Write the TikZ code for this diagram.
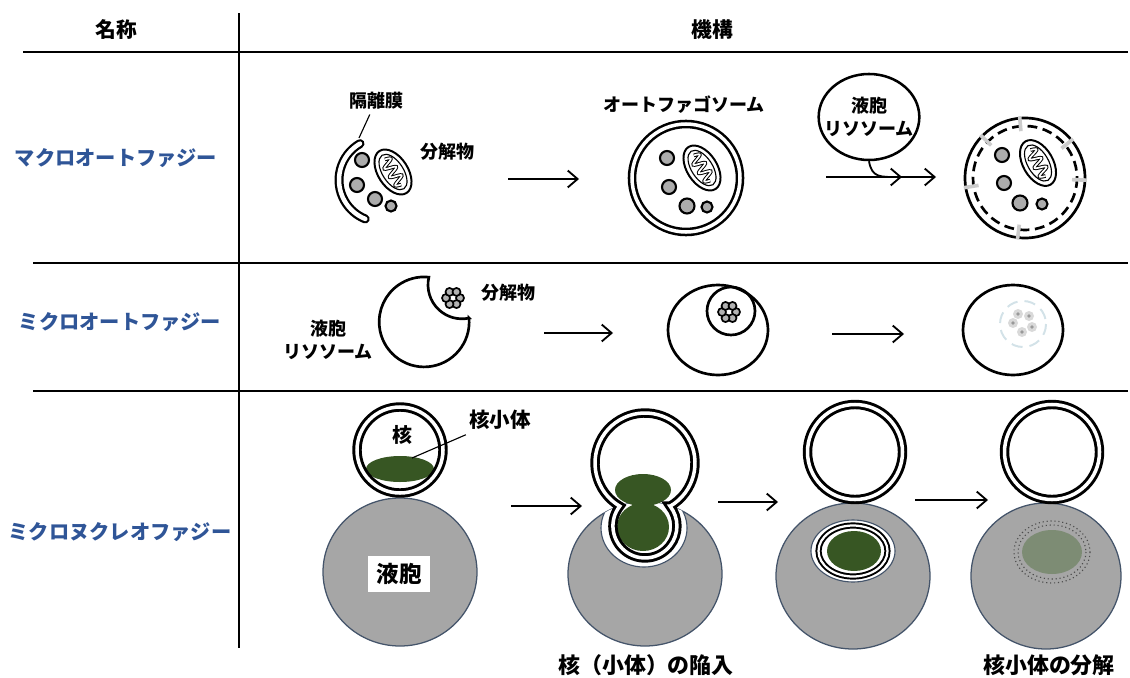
\documentclass[tikz,border=0pt]{standalone}
\usepackage{fontspec}
\setmainfont{Noto Sans CJK JP}
\usepackage{tikz}
\usetikzlibrary{arrows.meta, shapes.geometric}
\definecolor{rowblue}{HTML}{2F5597}
\definecolor{vacgray}{HTML}{A6A6A6}
\definecolor{vacedge}{HTML}{44546A}
\definecolor{nucgreen}{HTML}{375623}
\definecolor{fadegreen}{HTML}{7D8C74}
\definecolor{paleblue}{HTML}{D3E2E8}
\tikzset{
>={Straight Barb[length=7pt, width=12pt]}, % open arrow heads
rule/.style={line width=1.4pt}, % table lines
head/.style={font=\fontsize{14.8}{17}\selectfont\bfseries}, % column titles
rowname/.style={text=rowblue, font=\fontsize{14.4}{17}\selectfont\bfseries}, % row titles
lbl/.style={font=\fontsize{12.8}{16.5}\selectfont\bfseries, align=center}, % small labels
caption/.style={font=\fontsize{15.6}{18}\selectfont\bfseries}, % labels under the cells
flow/.style={->, line width=1.3pt}, % arrows between stages
leader/.style={line width=0.8pt}, % label pointer lines
outline/.style={draw=black, line width=1.9pt}, % plain membranes
membrane/.style={draw=black, line width=1.6pt, double=white, double distance=3.2pt, line cap=round},
apring/.style={draw=black, line width=1.8pt, double=white, double distance=2.5pt},
nucring/.style={draw=black, line width=2.1pt, double=white, double distance=2.5pt},
inring/.style={draw=black, line width=1.4pt, double=white, double distance=1.6pt},
cargo/.style={draw=black, fill=gray!65, line width=1.5pt}, % particles to degrade
grain/.style={draw=black, fill=gray!60, line width=1.2pt},
fadegrain/.style={fill=gray!30},
crista/.style={draw=black, line width=0.7pt, double=white, double distance=1.2pt},
vac/.style={fill=vacgray, draw=vacedge, line width=0.9pt}, % vacuole
pocket/.style={fill=white, draw=vacedge, line width=0.8pt},
lyso/.style={ellipse, draw, line width=1.8pt, minimum width=2.45cm, minimum height=2.15cm, inner sep=-6.5pt},
}
% mitochondrion: position, tilt
\newcommand\mito[2]{
  \begin{scope}[shift={(#1)}, rotate=#2]
    \draw[line width=1.4pt, fill=white] (0,0) ellipse [x radius=25, y radius=15];
    \draw[line width=0.8pt] (0,0) ellipse [x radius=20, y radius=10.5];
    \draw[crista] plot[domain=-15:15, samples=40, smooth] (\x, {5.5*sin(\x*36)});
  \end{scope}}
% ring of small particles
\newcommand\cluster[1]{
  \foreach \a in {0,60,...,300} \draw[grain] (#1) ++(\a:7) circle [radius=4];}

\begin{document}
\begin{tikzpicture}[x=0.025cm, y=-0.025cm]
\useasboundingbox (0,0) rectangle (1130,677);

% table
\draw[rule] (23,52) -- (1128,52);
\draw[rule] (239,13) -- (239,648);
\draw[rule] (33,263) -- (1128,263);
\draw[rule] (33,391) -- (1128,391);
\node[head] (hname) at (116,30) {名称};
\node[head] (hmech) at (712,30) {機構};
\node[rowname] (macro) at (116,158) {マクロオートファジー};
\node[rowname] (micro) at (120,322) {ミクロオートファジー};
\node[rowname] (nucleo) at (120,532) {ミクロヌクレオファジー};

% macroautophagy
\draw[membrane] (381,180) ++(240:42) arc[start angle=240, end angle=112, radius=42];
\node[lbl] (memlbl) at (376,101) {隔離膜};
\coordinate (memtip) at (359,138);
\draw[leader] (memlbl) -- (memtip);
\draw[cargo] (362,160) circle [radius=7];
\draw[cargo] (357,185) circle [radius=7];
\draw[cargo] (375,199) circle [radius=7];
\draw[cargo] (391,206) circle [radius=5.5];
\mito{393,172}{-57}
\node[lbl] (cargolbl) at (447,152) {分解物};
\coordinate (m1a) at (508,179);
\coordinate (m1b) at (579,179);
\draw[flow] (m1a) -- (m1b);

\node[lbl] (aplbl) at (684,105) {オートファゴソーム};
\draw[apring] (686,178) circle [radius=54];
\draw[cargo] (667,158) circle [radius=7];
\draw[cargo] (669,187) circle [radius=7];
\draw[cargo] (687,206) circle [radius=7.5];
\draw[cargo] (707,207) circle [radius=5.5];
\mito{702,168}{-57}

\node[lyso, lbl] (lyso) at (869,117) {液胞\\リソソーム};
\coordinate (fuse) at (902,177);
\draw[flow] (lyso.south) .. controls (872,178) and (880,177) .. (fuse);
\coordinate (m2a) at (826,177);
\coordinate (m2b) at (936,177);
\draw[flow] (m2a) -- (m2b);

\draw[outline] (1025,178) circle [radius=60];
\draw[outline, dash pattern=on 7pt off 4pt] (1025,178) circle [radius=52];
\foreach \a in {-95,-136,171,2,-39,97}
  \draw[gray!40, line width=2.6pt] (1025,178) ++(\a:47) -- ++(\a:15);
\draw[cargo] (1002,155) circle [radius=7];
\draw[cargo] (1004,183) circle [radius=7];
\draw[cargo] (1020,203) circle [radius=7.5];
\draw[cargo] (1042,204) circle [radius=5.5];
\mito{1038,163}{-60}

% microautophagy
\draw[outline, fill=white] (469,318) arc[start angle=-5, end angle=276, radius=45]
  arc[start angle=193, end angle=78, radius=34] -- cycle;
\cluster{453,298}
\node[lbl] (mcargolbl) at (508,293) {分解物};
\node[lbl] (mvaclbl) at (328,340) {液胞\\リソソーム};
\coordinate (u1a) at (544,333);
\coordinate (u1b) at (613,333);
\draw[flow] (u1a) -- (u1b);

\draw[outline] (718,330) ellipse [x radius=50, y radius=45];
\draw[outline] (731,311) circle [radius=24];
\cluster{729,312}
\coordinate (u2a) at (832,334);
\coordinate (u2b) at (904,334);
\draw[flow] (u2a) -- (u2b);

\draw[outline] (1013,330) ellipse [x radius=50, y radius=45];
\draw[paleblue, line width=1.4pt, dash pattern=on 8pt off 5pt] (1023,324) circle [radius=23];
\foreach \p in {{1018,314},{1029,316},{1013,323},{1032,327},{1022,332}} {
  \fill[fadegrain] (\p) circle [radius=5];
  \fill[gray!80] (\p) circle [radius=1.8];
}

% micronucleophagy
\draw[vac] (400,572) ellipse [x radius=77, y radius=74];
\fill[nucgreen] (400,469) ellipse [x radius=34, y radius=13];
\draw[nucring] (400,450) circle [radius=43];
\node[font=\fontsize{14.2}{17}\selectfont\bfseries] (nuctxt) at (402,435) {核};
\node[font=\fontsize{14.6}{17}\selectfont\bfseries] (nuclbl) at (500,420) {核小体};
\coordinate (nuctip) at (412,458);
\draw[leader] (nuclbl) -- (nuctip);
\node[fill=white, minimum width=1.55cm, minimum height=0.92cm, font=\fontsize{16}{18}\selectfont\bfseries] (vaclbl) at (399,574) {液胞};
\coordinate (n1a) at (511,506);
\coordinate (n1b) at (582,506);
\draw[flow] (n1a) -- (n1b);

\draw[vac] (645,574) ellipse [x radius=77, y radius=72];
\begin{scope}
  \clip (645,574) ellipse [x radius=77, y radius=72];
  \draw[pocket] (644,528) ellipse [x radius=43, y radius=39];
\end{scope}
\fill[nucgreen] (643,490) ellipse [x radius=28, y radius=16];
\fill[nucgreen] (643,527) ellipse [x radius=26, y radius=24];
\path (645,463) ++(59.7:50) coordinate (pinch);
\draw[nucring] (pinch) arc[start angle=59.7, end angle=-239.7, radius=50]
  arc[start angle=218.2, end angle=-38.2, radius=32] -- cycle;
\node[caption] (invag) at (646,665) {核（小体）の陥入};
\coordinate (n2a) at (718,502);
\coordinate (n2b) at (778,502);
\draw[flow] (n2a) -- (n2b);

\draw[vac] (853,576) ellipse [x radius=77, y radius=73];
\draw[pocket] (853,551) ellipse [x radius=42, y radius=31];
\draw[inring] (853,551) ellipse [x radius=34.5, y radius=25.5];
\fill[nucgreen] (854,551) ellipse [x radius=27, y radius=20];
\draw[nucring] (855,452) circle [radius=47.5];
\coordinate (n3a) at (915,500);
\coordinate (n3b) at (988,500);
\draw[flow] (n3a) -- (n3b);

\draw[vac] (1046,576) ellipse [x radius=75, y radius=73];
\fill[fadegreen] (1052,552) ellipse [x radius=30, y radius=22];
\draw[black!70, line width=0.8pt, dotted] (1052,552) ellipse [x radius=34, y radius=27];
\draw[black!70, line width=0.8pt, dotted] (1052,552) ellipse [x radius=38, y radius=31];
\draw[nucring] (1052,452) circle [radius=47.5];
\node[caption] (degr) at (1049,665) {核小体の分解};
\end{tikzpicture}
\end{document}
